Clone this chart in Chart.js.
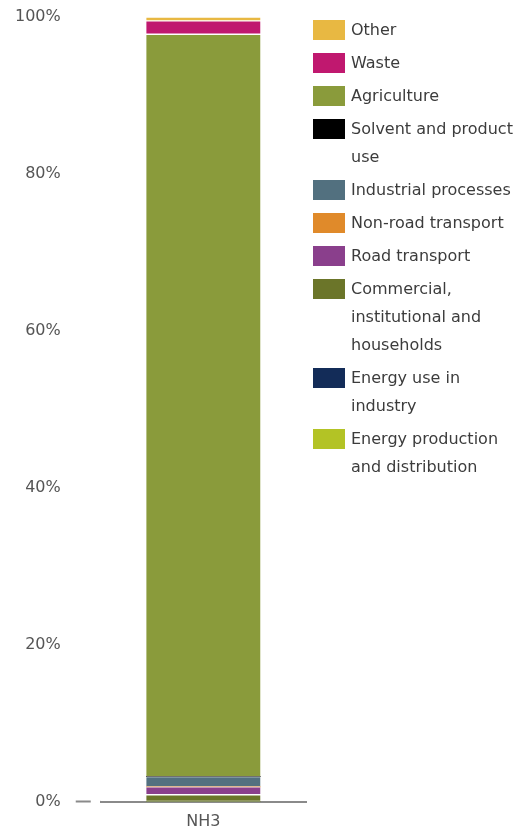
<!DOCTYPE html>
<html>
<head>
<meta charset="utf-8">
<script src="https://cdn.jsdelivr.net/npm/chart.js@4"></script>
<style>
  body { margin: 0; background: #fff; }
  #wrap { position: relative; width: 519px; height: 837px; }
  #legend {
    position: absolute; left: 313px; top: 16px; width: 200px;
    font-family: "DejaVu Sans", Verdana, sans-serif; font-size: 16px;
    color: #3c3c3c; line-height: 28px;
  }
  .item { display: flex; align-items: flex-start; margin-bottom: 5px; }
  .box { width: 32px; height: 20px; margin-top: 4px; margin-right: 6px; flex: none; }
</style>
</head>
<body>
<div id="wrap">
  <canvas id="myChart" width="519" height="837"></canvas>
  <div id="legend"></div>
</div>
<script>
// emission shares (%), stacked bottom to top
var categories = ['NH3'];
var sectors = [
  'Energy production and distribution',
  'Energy use in industry',
  'Commercial, institutional and households',
  'Road transport',
  'Non-road transport',
  'Industrial processes',
  'Solvent and product use',
  'Agriculture',
  'Waste',
  'Other'
];
var energyProduction = [0];
var energyIndustry = [0];
var commercial = [0.9];
var roadTransport = [1.0];
var nonRoadTransport = [0];
var industrial = [1.3];
var solvent = [0];
var agriculture = [94.6];
var waste = [1.7];
var other = [0.5];
var yTicks = [0, 20, 40, 60, 80, 100];

var colors = ['#b3c325', '#132c58', '#6b7529', '#8a3f8c', '#e08a2a',
              '#52707f', '#000000', '#8a9b3b', '#c0186f', '#e8b842'];
var series = [energyProduction, energyIndustry, commercial, roadTransport,
              nonRoadTransport, industrial, solvent, agriculture, waste, other];

var datasets = series.map(function (d, i) {
  return {
    label: sectors[i],
    data: d,
    backgroundColor: colors[i],
    borderColor: 'rgba(255,255,255,0.45)',
    borderWidth: { top: 1, bottom: 1, left: 0, right: 0 },
    borderSkipped: false,
    barThickness: 114
  };
});

var ctx = document.getElementById('myChart');
var myChart = new Chart(ctx, {
  type: 'bar',
  data: { labels: categories, datasets: datasets },
  options: {
    responsive: false,
    animation: false,
    layout: { padding: { top: 17, right: 213, bottom: 4, left: 0 } },
    plugins: { legend: { display: false }, tooltip: { enabled: false } },
    scales: {
      x: {
        stacked: true,
        grid: { display: false },
        border: { display: true, color: '#8a8a8a', width: 2 },
        ticks: {
          color: '#555',
          padding: 2,
          font: { family: 'DejaVu Sans', size: 16 }
        }
      },
      y: {
        stacked: true,
        min: 0,
        max: 100,
        afterBuildTicks: function (scale) {
          scale.ticks = yTicks.map(function (v) { return { value: v }; });
        },
        // let the top label overhang instead of pushing the plot down
        afterFit: function (scale) {
          scale.paddingTop = 0;
        },
        border: { display: false },
        grid: {
          drawOnChartArea: false,
          drawTicks: true,
          tickLength: 25,
          tickWidth: 2,
          tickBorderDash: [15, 10],
          tickColor: function (c) {
            return c.tick && c.tick.value === 0 ? '#8a8a8a' : 'rgba(0,0,0,0)';
          }
        },
        ticks: {
          color: '#555',
          padding: 15,
          font: { family: 'DejaVu Sans', size: 16 },
          callback: function (v) { return v + '%'; }
        }
      }
    }
  }
});

// legend on the right, top of stack listed first
var legend = document.getElementById('legend');
for (var i = datasets.length - 1; i >= 0; i--) {
  var item = document.createElement('div');
  item.className = 'item';
  var box = document.createElement('span');
  box.className = 'box';
  box.style.background = datasets[i].backgroundColor;
  var text = document.createElement('span');
  text.textContent = datasets[i].label;
  item.appendChild(box);
  item.appendChild(text);
  legend.appendChild(item);
}
</script>
</body>
</html>
